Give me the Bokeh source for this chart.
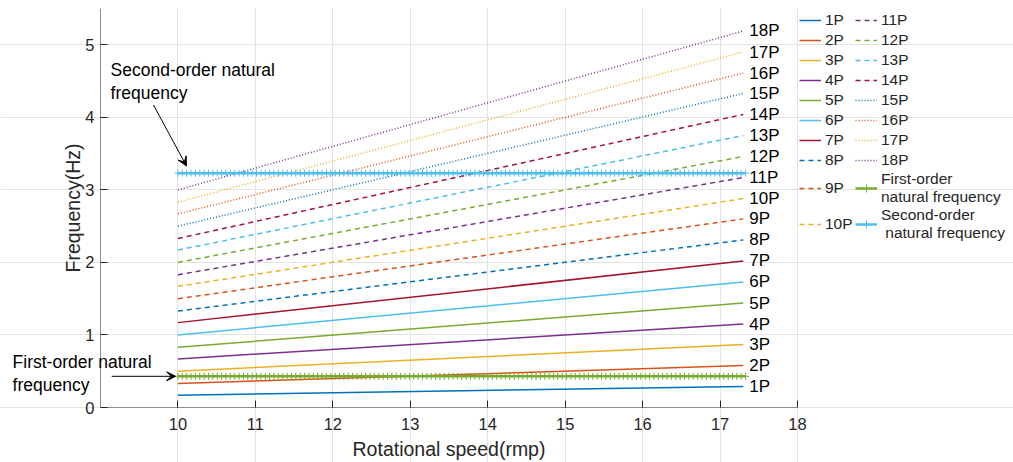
import numpy as np
from bokeh.plotting import figure
from bokeh.models import (ColumnDataSource, Range1d, FixedTicker, Legend, LegendItem,
                          Label, Arrow, VeeHead)
from bokeh.core.properties import value
from bokeh.embed import file_html
from bokeh.resources import INLINE

# ---------------- data ----------------
orders = ["1P", "2P", "3P", "4P", "5P", "6P", "7P", "8P", "9P", "10P",
          "11P", "12P", "13P", "14P", "15P", "16P", "17P", "18P"]
speed_start = 10.0
speed_end = 17.3
freq_start = [0.17, 0.33, 0.50, 0.67, 0.83, 1.00, 1.17, 1.33, 1.50, 1.67,
              1.83, 2.00, 2.17, 2.33, 2.50, 2.67, 2.83, 3.00]
freq_end = [0.29, 0.58, 0.87, 1.15, 1.44, 1.73, 2.02, 2.31, 2.60, 2.88,
            3.17, 3.46, 3.75, 4.04, 4.33, 4.61, 4.90, 5.19]
first_order_freq = 0.43
second_order_freq = 3.23
nat_speeds = np.linspace(10.0, 17.33, 131)
x_ticks = [10, 11, 12, 13, 14, 15, 16, 17, 18]
y_ticks = [0, 1, 2, 3, 4, 5]

# ---------------- styles ----------------
palette = ["#0072BD", "#D95319", "#EDB120", "#7E2F8E", "#77AC30", "#4DBEEE", "#A2142F"]
FONT = "Liberation Sans"
TXT = "#262626"

# The frame covers the whole page so outer texts are not clipped;
# the axes are drawn at speed 9 / frequency 0 with fixed_location.
PX_X = 9 / 697      # rpm per pixel
PX_Y = 5.5 / 399    # Hz per pixel
X_MIN, X_MAX = 9 - 100 * PX_X, 18 + 216 * PX_X
Y_MIN, Y_MAX = -55 * PX_Y, 5.5
p = figure(frame_width=1013, frame_height=454, output_backend="svg", toolbar_location=None,
           x_range=Range1d(X_MIN, X_MAX), y_range=Range1d(Y_MIN, Y_MAX),
           min_border_left=0, min_border_right=0, min_border_top=8, min_border_bottom=0)
p.outline_line_color = None
p.background_fill_color = "white"

renderers = []
for i, name in enumerate(orders):
    color = palette[i % 7]
    if i < 7:
        dash = "solid"
    elif i < 14:
        dash = "5 4"
    else:
        dash = "1 2"
    r = p.line([speed_start, speed_end], [freq_start[i], freq_end[i]],
               line_color=color, line_width=1.5, line_dash=dash)
    renderers.append(r)

# natural frequency lines with + markers
fo_y = [first_order_freq] * len(nat_speeds)
so_y = [second_order_freq] * len(nat_speeds)
fo_line = p.line(nat_speeds, fo_y, line_color="#77AC30", line_width=2.5)
fo_mark = p.scatter(nat_speeds, fo_y, marker="cross", size=7, line_color="#77AC30", line_width=1)
so_line = p.line(nat_speeds, so_y, line_color="#4DBEEE", line_width=2.5)
so_mark = p.scatter(nat_speeds, so_y, marker="cross", size=7, line_color="#4DBEEE", line_width=1)

# order labels at the end of lines
lab_src = ColumnDataSource(dict(x=[speed_end] * len(orders), y=freq_end, t=orders))
p.text(x="x", y="y", text="t", source=lab_src, x_offset=6, text_baseline="middle",
       text_align="left", text_font=value(FONT), text_font_size="17px", text_color="black")

# axes
for ax in (p.xaxis[0], p.yaxis[0]):
    ax.axis_line_color = "#8c8c8c"
    ax.major_tick_line_color = TXT
    ax.major_tick_in = 7
    ax.major_tick_out = 0
    ax.minor_tick_line_color = None
    ax.major_label_text_font = FONT
    ax.major_label_text_font_size = "16.5px"
    ax.major_label_text_color = TXT
p.yaxis.fixed_location = 9
p.xaxis.fixed_location = 0
p.xaxis.bounds = (9, 18)
p.yaxis.bounds = (0, 5.5)
p.xaxis.ticker = FixedTicker(ticks=x_ticks)
p.yaxis.ticker = FixedTicker(ticks=y_ticks)
p.xaxis.major_label_standoff = 10
p.yaxis.major_label_standoff = 6
p.xgrid.ticker = FixedTicker(ticks=x_ticks)
p.ygrid.ticker = FixedTicker(ticks=y_ticks)
p.xgrid.bounds = (0, 5.5)
p.ygrid.bounds = (9, 18)
p.grid.grid_line_color = "#e3e3e3"
p.grid.grid_line_width = 1

# axis titles
p.add_layout(Label(x=13.5, y=-41 * PX_Y, text="Rotational speed(rmp)", text_font=FONT,
                   text_font_size="19.5px", text_align="center", text_baseline="middle",
                   text_color=TXT))
p.add_layout(Label(x=X_MIN + 72 * PX_X, y=2.75, text="Frequency(Hz)", text_font=FONT,
                   text_font_size="19.5px", text_align="center", text_baseline="middle",
                   text_color=TXT, angle=np.pi / 2))

# annotations
for txt, x, y in [("Second-order natural", 9.13, 4.65), ("frequency", 9.13, 4.33),
                  ("First-order natural", 7.865, 0.63), ("frequency", 7.865, 0.31)]:
    p.add_layout(Label(x=x, y=y, text=txt, text_font=FONT, text_font_size="17.5px",
                       text_baseline="middle", text_align="left", text_color="black"))
p.add_layout(Arrow(x_start=9.684, y_start=4.17, x_end=10.11, y_end=3.33,
                   line_color="black", line_width=1,
                   end=VeeHead(size=9, fill_color="black", line_color="black")))
p.add_layout(Arrow(x_start=9.145, y_start=first_order_freq, x_end=9.97, y_end=first_order_freq,
                   line_color="black", line_width=1,
                   end=VeeHead(size=9, fill_color="black", line_color="black")))

# legend
items = [LegendItem(label=n, renderers=[r]) for n, r in zip(orders, renderers)]
items.append(LegendItem(label="First-order\nnatural frequency", renderers=[fo_line, fo_mark]))
items.append(LegendItem(label="Second-order\n natural frequency", renderers=[so_line, so_mark]))
legend = Legend(items=items, nrows=10, location=(797, 218), margin=0, padding=2, spacing=0,
                glyph_width=22, glyph_height=20, label_standoff=4, label_height=16,
                label_width=30,
                label_text_font=FONT, label_text_font_size="15.5px", label_text_color=TXT,
                border_line_alpha=0, background_fill_alpha=0)
p.add_layout(legend, "center")

open("out.html", "w").write(file_html(p, INLINE))
